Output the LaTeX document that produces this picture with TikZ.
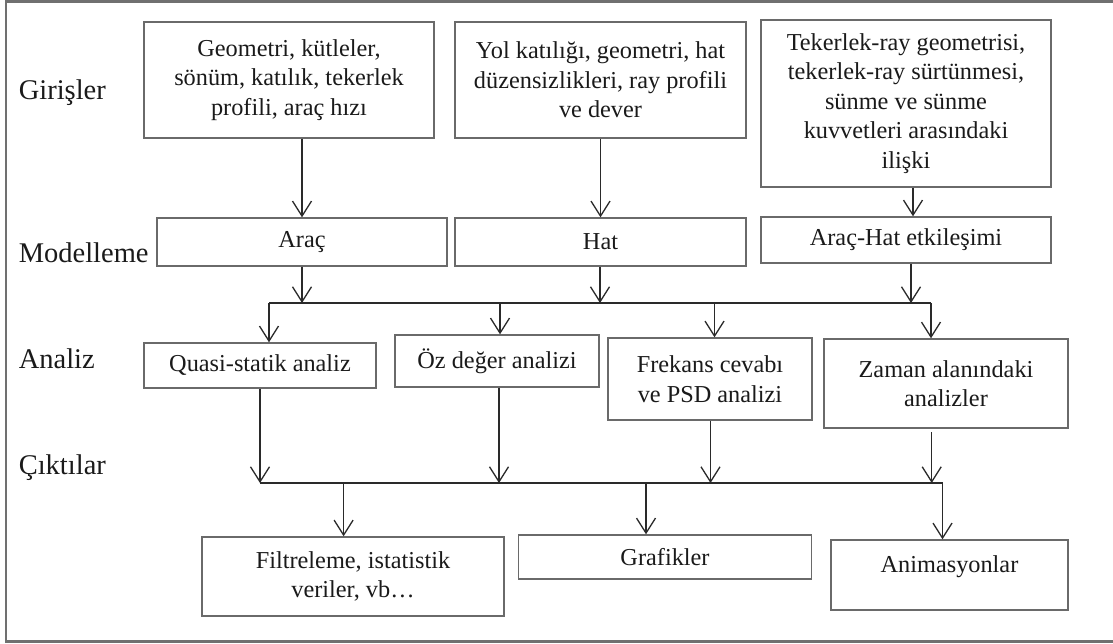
\documentclass[tikz,border=0pt]{standalone}
\usepackage{fontspec}
\setmainfont{Liberation Serif}
\usetikzlibrary{arrows.meta}
\definecolor{boxline}{HTML}{6A6A6A}
\definecolor{arrline}{HTML}{2A2A2A}
\definecolor{framecol}{HTML}{707070}
\definecolor{txt}{HTML}{1A1A1A}
\tikzset{
  box/.style={draw=boxline, line width=1.4pt, inner sep=0pt, align=center, text=txt,
    font=\fontsize{24.3}{29.5}\selectfont},
  arr/.style={draw=arrline, line width=1.3pt, -{Straight Barb[length=15pt,width=19pt]}},
  bus/.style={draw=arrline, line width=1.3pt},
  lbl/.style={anchor=base west, inner sep=0pt, text=txt, font=\fontsize{28.5}{34}\selectfont}
}
\begin{document}
\begin{tikzpicture}[x=1pt,y=-1pt]
\useasboundingbox (0,0) rectangle (1113,644);
\fill[white] (0,0) rectangle (1113,644);
% frame (right side is outside the picture)
\draw[framecol, line width=2.2pt] (1113,1.5) -- (6,1.5) -- (6,641.5) -- (1113,641.5);

% row labels
\node[lbl] (lg) at (18.6,100) {Girişler};
\node[lbl] (lm) at (18.6,262) {Modelleme};
\node[lbl] (la) at (18.6,368) {Analiz};
\node[lbl] (lc) at (18.6,474) {Çıktılar};

% inputs
\node[box, minimum width=290pt, minimum height=116pt] (in1) at (289,80)
  {Geometri, kütleler,\\ sönüm, katılık, tekerlek\\ profili, araç hızı};
\node[box, minimum width=291pt, minimum height=116pt] (in2) at (600.5,80)
  {Yol katılığı, geometri, hat\\ düzensizlikleri, ray profili\\ ve dever};
\node[box, minimum width=290pt, minimum height=167pt] (in3) at (906,103.5)
  {Tekerlek-ray geometrisi,\\ tekerlek-ray sürtünmesi,\\ sünme ve sünme\\ kuvvetleri arasındaki\\ ilişki};

% modelling
\node[box, minimum width=290pt, minimum height=48pt] (m1) at (302,242) {Araç};
\node[box, minimum width=291pt, minimum height=48pt] (m2) at (600.5,242) {Hat};
\node[box, minimum width=290pt, minimum height=46pt] (m3) at (906,240) {Araç-Hat etkileşimi};

% analysis
\node[box, minimum width=232pt, minimum height=45pt] (a1) at (260,365.5) {Quasi-statik analiz};
\node[box, minimum width=204pt, minimum height=52pt] (a2) at (497,361) {Öz değer analizi};
\node[box, minimum width=204pt, minimum height=82pt] (a3) at (710,379) {Frekans cevabı\\ ve PSD analizi};
\node[box, minimum width=244pt, minimum height=89pt] (a4) at (946,383.5) {Zaman alanındaki\\ analizler};

% outputs
\node[box, minimum width=302pt, minimum height=79pt] (o1) at (353,576.5) {Filtreleme, istatistik\\ veriler, vb…};
\node[box, minimum width=293pt, minimum height=44pt] (o2) at (665,557) {Grafikler};
\node[box, minimum width=237pt, minimum height=70pt, text depth=21pt] (o3) at (949.5,575) {Animasyonlar};

% inputs -> modelling
\coordinate (x3) at (913,0);
\draw[arr] (in1.south -| m1) -- (m1.north);
\draw[arr] (in2.south -| m2) -- (m2.north);
\draw[arr] (in3.south -| x3) -- (m3.north -| x3);

% bus 1
\coordinate (b1L) at (269,303);
\coordinate (b1R) at (931,303);
\coordinate (j1) at (302,303);
\coordinate (j2) at (600,303);
\coordinate (j3) at (911,303);
\coordinate (k2) at (500,303);
\coordinate (k3) at (714.5,303);
\draw[bus] (b1L) -- (b1R);
\draw[arr] (m1.south -| j1) -- (j1);
\draw[arr] (m2.south -| j2) -- (j2);
\draw[arr] (m3.south -| j3) -- (j3);
\draw[arr] (b1L) -- (a1.north -| b1L);
\draw[arr] (k2) -- (a2.north -| k2);
\draw[arr] (k3) -- (a3.north -| k3);
\draw[arr] (b1R) -- (a4.north -| b1R);

% bus 2
\coordinate (b2L) at (260,483);
\coordinate (b2R) at (942.5,483);
\coordinate (q2) at (499,483);
\coordinate (q3) at (710.5,483);
\coordinate (q4) at (931.7,483);
\coordinate (q4top) at (931.7,432);
\coordinate (r1) at (343.6,483);
\coordinate (r2) at (646,483);
\draw[bus] (b2L) -- (b2R);
\draw[arr] (a1.south -| b2L) -- (b2L);
\draw[arr] (a2.south -| q2) -- (q2);
\draw[arr] (a3.south -| q3) -- (q3);
\draw[arr] (q4top) -- (q4);
\draw[arr] (r1) -- (o1.north -| r1);
\draw[arr] (r2) -- (o2.north -| r2);
\draw[arr] (b2R) -- (o3.north -| b2R);
\end{tikzpicture}
\end{document}
